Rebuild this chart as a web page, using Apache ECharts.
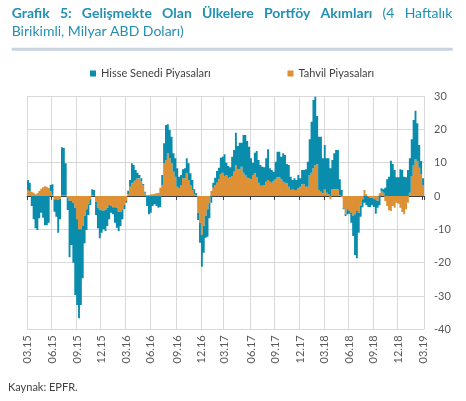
<!DOCTYPE html>
<html>
<head>
<meta charset="utf-8">
<script src="https://cdn.jsdelivr.net/npm/echarts@6/dist/echarts.min.js"></script>
<style>html,body{margin:0;padding:0;background:#fff}#c{width:466px;height:401px}</style>
</head>
<body>
<div id="c"></div>
<script>
// Weekly observations, first week of March 2015 onwards
const startDate = [2015, 2, 4];
const weekCount = 210;
const seriesNames = ['Hisse Senedi Piyasaları', 'Tahvil Piyasaları'];
const yTicks = [-40, -30, -20, -10, 0, 10, 20, 30];

const equity = [
  3.0, 2.5, -3, -7, -9.7, -10.2, -6.7, -5, -6.5, -8.8,
  -8.8, -8, 1.8, 3.1, -3.7, -5.2, -9.8, -6.2, 14.3, 14.1,
  9.6, -3.7, -16.9, -13.2, -18, -26.2, -25.7, -26.7, -22.7, -15.7,
  -8.2, -6.2, -3.2, -1.7, 1.8, 1.7, -4, -6.2, -8.5, -6.7,
  -5.5, -6.3, -5.5, -4.3, -2, -2.1, -4.6, -5.9, -5.8, -4.3,
  -2.8, -1.3, -0.5, 1.0, 2.0, 6.0, 5.0, 3.0, 1.7, 1.0,
  0.8, 0.3, 0.3, -3, -5.5, -5, -3, -2.5, -3, -3.5,
  -3.3, 3.0, 6.0, 10.5, 8.7, 8.5, 8.0, 5.5, 5.5, 5.5,
  3.5, 3.0, 2.7, 3.0, 4.5, 5.0, 3.5, 3.0, 1.5, 0.5,
  -2.2, -6, -9.5, -8, -6.5, -8.2, -4.7, -2, 1.5, 2.2,
  3.5, 3.5, 5, 4.8, 6.5, 3.7, 3.7, 3, 5.8, 6.5,
  9.7, 7, 8, 7.2, 11.3, 12, 11, 9.5, 6.3, 3.7,
  6.2, 7.9, 6.8, 6.2, 5.7, 5.3, 7, 9.2, 4, 3.8,
  2.7, 5.3, 7.7, 7.7, 6.8, 8.5, 8.3, 5.8, 6.5, 4,
  2.8, 3.5, 3, 4, 2.5, 4.3, 4.3, 5.2, 7.5, 10.7,
  15.3, 20.5, 20.5, 14.4, 16, 16.5, 10.5, 13.3, 10.3, 10.8,
  8.3, 8.8, 10.8, 11.8, 11.8, 4.8, 1.8, -0.3, -0.5, -1.5,
  -0.8, -3, -6, -12.2, -14.2, -6, -3.2, -2.4, -2, -2.7,
  -3, -2.8, -2.3, -2.3, -4.3, -2, -2.8, 0.8, 1, 2.5,
  5, 5.8, 10.6, 9.6, 7.8, 5.6, 5.6, 8, 7.8, 5.8,
  5.6, 7.8, 10.3, 11, 13.5, 14.6, 11.3, 6.8, 4, 2
];

const bond = [
  1.8, 1.5, 1.3, 1.0, 0.5, 0.8, 1.5, 2.2, 2.6, 2.9,
  2.8, 2.4, 1.5, 0.4, -1, -1, -1.2, -0.8, 0.3, 0.3,
  0.2, -0.5, -1.5, -1.5, -2, -3.5, -7, -10, -10, -9,
  -6, -4, -2.5, -1, 0.2, 0.1, -1.7, -3.5, -4.2, -4.3,
  -4.5, -4.2, -3.5, -2.7, -3, -3.4, -3.4, -3.6, -4.7, -4.7,
  -4.2, -2.7, -1.5, 0.6, 2.8, 3.8, 4.3, 4.8, 5.3, 5.3,
  4.5, 3.3, 1.0, 0.3, 0.3, 0.5, 0.5, 0.7, 0.8, 0.9,
  2.5, 3.3, 9.8, 10.8, 12.8, 11.3, 9.8, 7.3, 5.8, 2.8,
  2.3, 3.3, 5.3, 5.3, 6.8, 4.8, 3.3, 1.8, 0.5, 0.3,
  -5, -8, -11.7, -9, -6, -4, -2, 1.5, 2.5, 3.3,
  4, 5, 6.5, 7, 6, 6.3, 5.3, 5.6, 6, 7.3,
  9.3, 8, 8, 8.8, 7, 6.3, 5.5, 5.3, 5, 6.3,
  6.8, 5.6, 4, 3.1, 3.1, 3.3, 4.3, 4.8, 4.3, 4,
  4.6, 5, 5.6, 5.6, 5, 4.3, 4, 3.8, 2.8, 1.8,
  2, 1.8, 1.8, 2.3, 2.8, 3.5, 3.5, 2.8, 2.8, 6.3,
  7, 8.3, 9.3, 9.6, 1.8, 1.3, 0.8, 2, 1, 0.5,
  -1, 2, 2, 2, 2, 0.2, -0.4, -3.7, -5.5, -4,
  -4.5, -5, -6, -5.5, -4.5, -5, -3, -1, 1.8, 0.5,
  -0.3, -0.5, -0.5, -1, -1, -1.5, 0.8, 1.5, 1, -1.5,
  -3, -4.3, -4.5, -3, -3.5, -2, -2.3, -3.5, -4.8, -5.5,
  -4, -2, 1, 6, 9.3, 11, 10.5, 8.5, 6.5, 3.3
];

const titleBold = ['Grafik', '5:', 'Gelişmekte', 'Olan', 'Ülkelere', 'Portföy', 'Akımları'];
const titleNormal1 = ['(4', 'Haftalık'];
const titleLine2 = 'Birikimli, Milyar ABD Doları)';
const sourceText = 'Kaynak: EPFR.';

const categories = [];
const t0 = Date.UTC(startDate[0], startDate[1], startDate[2]);
for (let i = 0; i < weekCount; i++) {
  categories.push(new Date(t0 + i * 7 * 86400000).toISOString().slice(0, 10));
}
const isQuarterStart = (v) => {
  const m = +v.slice(5, 7), d = +v.slice(8, 10);
  return m % 3 === 0 && d <= 7;
};
const fmtLabel = (v) => v.slice(5, 7) + '.' + v.slice(2, 4);

const FONT = 'Lato';
const TEAL = '#0A8CAD';
const ORANGE = '#DE9134';
const TITLE = '#2290B2';
const boldFont = 'bold 14px ' + FONT;
const normFont = '14px ' + FONT;

// justify title line 1 between x0 and x1
const ctx = document.createElement('canvas').getContext('2d');
const words = titleBold.map(t => ({ t, f: boldFont })).concat(titleNormal1.map(t => ({ t, f: normFont })));
words.forEach(w => { ctx.font = w.f; w.w = ctx.measureText(w.t).width; });
const x0 = 11.7, x1 = 452.3;
const totalW = words.reduce((s, w) => s + w.w, 0);
const gap = (x1 - x0 - totalW) / (words.length - 1);
let cx = x0;
const graphics = [];
words.forEach(w => {
  graphics.push({ type: 'text', left: cx, top: 6.5, style: { text: w.t, fill: TITLE, font: w.f } });
  cx += w.w + gap;
});
graphics.push({ type: 'text', left: x0, top: 24, style: { text: titleLine2, fill: TITLE, font: normFont } });
graphics.push({ type: 'rect', shape: { x: 11.7, y: 47.7, width: 441, height: 3 }, style: { fill: '#C9D3DF' } });
graphics.push({ type: 'text', left: 8, top: 382, style: { text: sourceText, fill: '#404040', font: '11px ' + FONT } });

const chart = echarts.init(document.getElementById('c'), null, { renderer: 'canvas' });
chart.setOption({
  animation: false,
  backgroundColor: '#fff',
  graphic: graphics,
  legend: [
    { data: [seriesNames[0]], left: 90, top: 68, padding: 0, icon: 'rect', itemWidth: 6, itemHeight: 6,
      textStyle: { fontFamily: FONT, fontSize: 11, color: '#404040' } },
    { data: [seriesNames[1]], left: 287.5, top: 68, padding: 0, icon: 'rect', itemWidth: 6, itemHeight: 6,
      textStyle: { fontFamily: FONT, fontSize: 11, color: '#404040' } }
  ],
  grid: { left: 27, top: 96, width: 397, height: 233.3, containLabel: false },
  xAxis: [
    {
      type: 'category', data: categories, position: 'bottom',
      axisLine: { show: false, onZero: false },
      axisTick: { show: false },
      axisLabel: {
        interval: (i, v) => isQuarterStart(v), formatter: fmtLabel, rotate: 90, margin: 6,
        fontFamily: FONT, fontSize: 11, color: '#595959'
      },
      splitLine: { show: true, interval: (i, v) => isQuarterStart(v) && i < weekCount - 1,
        lineStyle: { color: '#D9D9D9', width: 1 } }
    },
    {
      type: 'category', data: categories, position: 'top',
      axisLine: { show: true, onZero: true, lineStyle: { color: '#404040', width: 1 } },
      axisTick: { show: true, inside: true, length: 4, interval: (i, v) => isQuarterStart(v),
        lineStyle: { color: '#404040' } },
      axisLabel: { show: false },
      splitLine: { show: false }
    }
  ],
  yAxis: {
    type: 'value', position: 'right', min: yTicks[0], max: yTicks[yTicks.length - 1], interval: 10,
    axisLine: { show: false }, axisTick: { show: false },
    axisLabel: { margin: 10, fontFamily: FONT, fontSize: 11, color: '#595959' },
    splitLine: { lineStyle: { color: '#D9D9D9', width: 1 } }
  },
  series: [
    { name: seriesNames[1], type: 'bar', stack: 'flows', data: bond, barCategoryGap: '0%',
      large: true, largeThreshold: 1,
      itemStyle: { color: ORANGE }, emphasis: { disabled: true } },
    { name: seriesNames[0], type: 'bar', stack: 'flows', data: equity, barCategoryGap: '0%',
      large: true, largeThreshold: 1,
      itemStyle: { color: TEAL }, emphasis: { disabled: true } }
  ]
});
</script>
</body>
</html>
